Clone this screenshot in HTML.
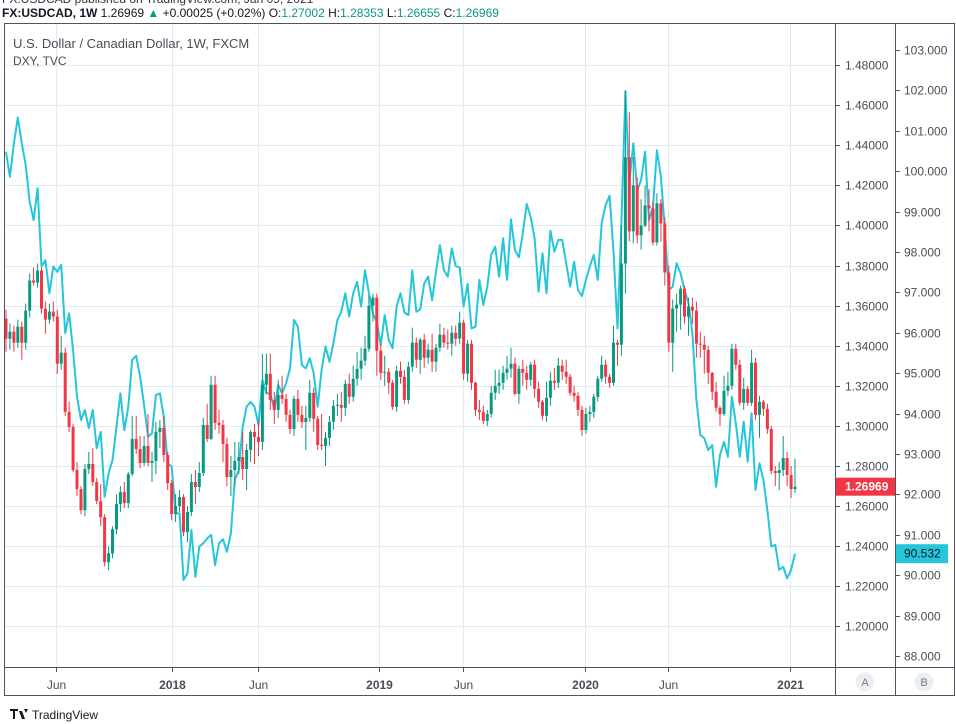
<!DOCTYPE html>
<html><head><meta charset="utf-8"><style>
body{margin:0;background:#fff;font-family:"Liberation Sans",sans-serif;}
svg{display:block}
</style></head><body>
<svg id="c" width="956" height="724" xmlns="http://www.w3.org/2000/svg" font-family="Liberation Sans, sans-serif">
<text x="2" y="3" font-size="12" fill="#333">FX:USDCAD published on TradingView.com, Jan 09, 2021</text>
<g font-size="12">
<text x="2" y="17" fill="#131722"><tspan font-weight="bold">FX:USDCAD, 1W</tspan> 1.26969 <tspan fill="#089981">▲</tspan> +0.00025 (+0.02%) O:<tspan fill="#089981">1.27002</tspan> H:<tspan fill="#089981">1.28353</tspan> L:<tspan fill="#089981">1.26655</tspan> C:<tspan fill="#089981">1.26969</tspan></text>
</g>
<g id="grid"></g>
<g id="dxy"></g>
<g id="candles"></g>
<g>
<text x="13" y="48" font-size="13" fill="#4a4d57">U.S. Dollar / Canadian Dollar, 1W, FXCM</text>
<text x="13" y="65" font-size="12" fill="#4a4d57">DXY, TVC</text>
</g>
<g id="axes"></g>
<g fill="none" stroke="#50535e" stroke-width="1">
<rect x="4.5" y="23.5" width="950" height="672"/>
<line x1="835.5" y1="23" x2="835.5" y2="696"/>
<line x1="895.5" y1="23" x2="895.5" y2="696"/>
<line x1="4" y1="667.5" x2="955" y2="667.5"/>
</g>
<g><circle cx="865" cy="682" r="9.5" fill="#eceff2"/><text x="865" y="686" font-size="11" fill="#787b86" text-anchor="middle">A</text></g>
<g><circle cx="924" cy="682" r="9.5" fill="#eceff2"/><text x="924" y="686" font-size="11" fill="#787b86" text-anchor="middle">B</text></g>
<g>
<path d="M10 709h8v2h-3v8h-2v-8h-3z M19 711h3l3 8h-3z M24 709h4l-2 4z" fill="#131722"/>
<text x="32" y="719" font-size="12" fill="#131722">TradingView</text>
</g>
</svg>
<script>
const closes=[1.3435,1.3470,1.3415,1.3495,1.3415,1.3575,1.3725,1.3715,1.3775,1.3585,1.3530,1.3570,1.3545,1.3310,1.3365,1.3070,1.2995,1.2780,1.2685,1.2580,
1.2785,1.2810,1.2720,1.2625,1.2545,1.2320,1.2365,1.2485,1.2610,1.2670,1.2615,1.2760,1.2935,1.2885,1.2815,1.2900,1.2815,1.2825,1.2970,1.2990,
1.2855,1.2715,1.2560,1.2600,1.2645,1.2470,1.2570,1.2720,1.2695,1.2765,1.3005,1.2935,1.3205,1.3015,1.3005,1.2910,1.2745,1.2780,1.2825,1.2845,
1.2785,1.2880,1.2970,1.2945,1.2920,1.3205,1.3260,1.3130,1.3080,1.3155,1.3135,1.3055,1.2985,1.3135,1.3055,1.3020,1.3040,1.3165,1.3035,1.2905,
1.2900,1.2940,1.3020,1.3100,1.3105,1.3090,1.3210,1.3145,1.3235,1.3285,1.3325,1.3385,1.3600,1.3640,1.3375,1.3265,1.3270,1.3215,1.3095,1.3275,
1.3245,1.3130,1.3295,1.3415,1.3330,1.3430,1.3340,1.3380,1.3320,1.3390,1.3455,1.3415,1.3410,1.3465,1.3435,1.3515,1.3260,1.3410,1.3215,1.3080,
1.3070,1.3025,1.3060,1.3165,1.3200,1.3215,1.3265,1.3285,1.3310,1.3160,1.3285,1.3265,1.3230,1.3305,1.3185,1.3120,1.3050,1.3140,1.3225,1.3215,
1.3300,1.3270,1.3245,1.3165,1.3150,1.3080,1.2980,1.3060,1.3070,1.3145,1.3235,1.3305,1.3245,1.3215,1.3415,1.3405,1.3810,1.4340,1.3970,1.4200,
1.3950,1.4000,1.4100,1.4085,1.3915,1.4110,1.4010,1.3765,1.3415,1.3585,1.3605,1.3685,1.3545,1.3595,1.3575,1.3410,1.3405,1.3380,1.3265,1.3170,
1.3090,1.3060,1.3175,1.3200,1.3385,1.3305,1.3115,1.3185,1.3115,1.3315,1.3055,1.3120,1.3085,1.2985,1.2775,1.2765,1.2780,1.2840,1.2755,1.2685,1.26969];
const firstOpen=1.3535;
const highs=[1.358,1.351,1.350,1.353,1.352,1.361,1.376,1.379,1.381,1.379,1.362,1.361,1.362,1.358,1.345,1.339,1.312,1.301,1.282,1.270,
1.281,1.287,1.289,1.274,1.271,1.256,1.240,1.250,1.266,1.270,1.272,1.277,1.305,1.305,1.295,1.295,1.306,1.287,1.302,1.303,
1.305,1.287,1.273,1.266,1.268,1.266,1.260,1.276,1.278,1.282,1.304,1.311,1.325,1.325,1.308,1.303,1.294,1.285,1.292,1.292,
1.297,1.291,1.298,1.301,1.303,1.336,1.336,1.336,1.317,1.323,1.325,1.316,1.308,1.315,1.318,1.310,1.310,1.323,1.319,1.305,
1.306,1.297,1.305,1.313,1.316,1.317,1.323,1.326,1.330,1.337,1.339,1.345,1.365,1.366,1.366,1.341,1.335,1.329,1.323,1.330,
1.332,1.328,1.332,1.349,1.344,1.344,1.346,1.341,1.346,1.341,1.351,1.349,1.348,1.350,1.350,1.357,1.353,1.343,1.343,1.322,
1.313,1.310,1.308,1.320,1.328,1.328,1.330,1.335,1.339,1.334,1.330,1.333,1.330,1.332,1.333,1.322,1.313,1.322,1.327,1.329,
1.334,1.333,1.333,1.326,1.320,1.317,1.310,1.309,1.310,1.316,1.325,1.335,1.333,1.326,1.350,1.343,1.400,1.4675,1.4565,1.434,
1.424,1.413,1.420,1.418,1.412,1.416,1.413,1.404,1.380,1.363,1.366,1.370,1.370,1.364,1.364,1.362,1.347,1.345,1.340,1.327,
1.322,1.310,1.325,1.327,1.341,1.341,1.333,1.324,1.320,1.338,1.334,1.315,1.313,1.311,1.300,1.280,1.282,1.295,1.287,1.280,1.28353];
const lows=[1.337,1.338,1.337,1.339,1.333,1.338,1.354,1.370,1.369,1.356,1.346,1.351,1.352,1.326,1.328,1.305,1.297,1.277,1.265,1.256,
1.255,1.276,1.270,1.261,1.250,1.230,1.228,1.234,1.246,1.257,1.259,1.259,1.275,1.286,1.279,1.280,1.280,1.272,1.276,1.289,
1.282,1.268,1.253,1.252,1.257,1.245,1.242,1.255,1.261,1.267,1.275,1.292,1.293,1.298,1.296,1.282,1.270,1.265,1.270,1.276,
1.273,1.268,1.282,1.281,1.285,1.288,1.316,1.308,1.301,1.304,1.311,1.302,1.296,1.295,1.302,1.299,1.288,1.302,1.297,1.288,
1.288,1.280,1.290,1.298,1.305,1.302,1.305,1.311,1.312,1.320,1.323,1.330,1.337,1.352,1.325,1.323,1.320,1.316,1.308,1.307,
1.321,1.311,1.311,1.327,1.329,1.326,1.329,1.331,1.327,1.327,1.337,1.339,1.338,1.335,1.340,1.341,1.323,1.322,1.318,1.305,
1.303,1.301,1.300,1.304,1.313,1.316,1.318,1.323,1.324,1.315,1.311,1.320,1.318,1.320,1.314,1.309,1.303,1.302,1.310,1.318,
1.319,1.323,1.321,1.315,1.312,1.305,1.295,1.296,1.302,1.304,1.312,1.322,1.321,1.319,1.320,1.330,1.335,1.366,1.392,1.391,
1.391,1.388,1.399,1.397,1.390,1.390,1.392,1.370,1.337,1.327,1.347,1.348,1.351,1.345,1.351,1.334,1.334,1.326,1.321,1.313,
1.307,1.300,1.305,1.315,1.318,1.328,1.310,1.308,1.310,1.310,1.303,1.294,1.305,1.296,1.276,1.270,1.268,1.275,1.270,1.264,1.26655];
const dxy=[100.48,99.86,100.69,101.33,100.69,100.15,99.24,98.79,99.58,97.64,97.80,96.98,97.64,97.51,97.68,95.99,96.48,95.57,94.42,93.84,
94.09,93.64,94.09,93.14,93.55,91.94,92.52,92.85,93.68,94.50,93.59,94.17,95.33,95.43,94.91,94.21,93.43,93.51,94.46,94.50,
93.92,92.77,92.69,91.53,91.53,89.88,90.05,91.12,89.96,90.71,90.79,90.91,91.00,90.25,90.79,90.89,90.58,91.04,92.36,92.60,
93.68,94.17,94.29,94.17,93.72,94.83,94.50,94.50,94.09,94.71,94.50,94.75,95.12,96.32,96.15,95.20,95.12,95.37,95.00,94.17,
95.08,95.66,95.28,95.74,96.32,96.52,96.98,96.40,96.98,97.26,96.65,97.55,96.98,96.48,96.27,95.70,96.44,95.82,95.62,96.65,
96.98,96.50,96.44,97.55,96.52,96.58,97.22,97.39,96.81,97.51,98.17,97.55,97.39,98.09,97.65,97.62,96.65,97.21,96.11,96.15,
97.31,96.69,97.14,97.93,98.13,97.39,98.34,97.31,98.81,98.05,97.87,98.46,99.19,98.87,98.34,97.02,97.97,96.98,98.53,98.01,
98.30,98.30,97.72,97.14,97.76,97.06,96.91,97.31,97.65,97.93,97.31,98.72,99.16,99.39,98.01,96.11,98.71,101.97,99.70,100.69,
99.53,99.78,100.48,98.79,99.12,100.52,99.86,98.59,97.06,97.14,97.72,97.47,97.06,96.73,95.99,94.34,93.47,93.39,93.10,93.22,
92.19,92.98,93.30,92.93,94.42,93.76,92.93,93.80,92.81,94.01,92.11,92.77,92.36,91.61,90.71,90.75,90.13,90.21,89.92,90.13,90.532];
const leftTicks=["1.20000","1.22000","1.24000","1.26000","1.28000","1.30000","1.32000","1.34000","1.36000","1.38000","1.40000","1.42000","1.44000","1.46000","1.48000"];
const rightTicks=["88.000","89.000","90.000","91.000","92.000","93.000","94.000","95.000","96.000","97.000","98.000","99.000","100.000","101.000","102.000","103.000"];
const timeLabels=["Jun","2018","Jun","2019","Jun","2020","Jun","2021"];
const timeIdx=[12.7,42.1,63.9,94.6,115.8,146.8,167.8,198.7];

const NS="http://www.w3.org/2000/svg";
function xOf(i){return 6+i*3.945;}
function yA(v){return 466+(1.28-v)*2005;}
function yB(v){return 454+(93-v)*40.4;}
function mk(tag,attrs,parent){const e=document.createElementNS(NS,tag);for(const k in attrs)e.setAttribute(k,attrs[k]);parent.appendChild(e);return e;}
const grid=document.getElementById('grid'),axes=document.getElementById('axes');
leftTicks.forEach(t=>{const y=Math.round(yA(parseFloat(t)))+0.5;
 const g=mk('line',{x1:5,x2:835,y1:y,y2:y,stroke:'#e1ecf2'},grid);
 
 
 const tk=mk('line',{x1:835,x2:840,y1:y,y2:y,stroke:'#50535e'},axes);
 
 
 const tx=mk('text',{x:845,y:y+4,'font-size':12,fill:'#4a4d57'},axes);tx.textContent=t;
 
 
});
rightTicks.forEach(t=>{const y=Math.round(yB(parseFloat(t)))+0.5;
 const tk=mk('line',{x1:895,x2:900,y1:y,y2:y,stroke:'#50535e'},axes);
 
 
 const tx=mk('text',{x:904,y:y+4,'font-size':12,fill:'#4a4d57'},axes);tx.textContent=t;
 
 
});
timeLabels.forEach((t,k)=>{const x=Math.round(xOf(timeIdx[k]))+0.5;
 const g=mk('line',{x1:x,x2:x,y1:24,y2:667,stroke:'#e1ecf2'},grid);
 
 
 const tk=mk('line',{x1:x,x2:x,y1:667,y2:672,stroke:'#50535e'},axes);
 
 
 const tx=mk('text',{x:x,y:689,'font-size':12,fill:'#4a4d57','text-anchor':'middle','font-weight':(t==='Jun'?'normal':'bold')},axes);tx.textContent=t;
 
 
});
const dxyG=document.getElementById('dxy');
const pl=mk('polyline',{points:dxy.map((v,i)=>xOf(i).toFixed(1)+','+yB(v).toFixed(1)).join(' '),fill:'none',stroke:'#26c6da','stroke-width':2,'stroke-linejoin':'round'},dxyG);


const cg=document.getElementById('candles');
closes.forEach((c,i)=>{const o=i===0?firstOpen:closes[i-1];const up=c>=o;const col=up?'#089981':'#f23645';
 const x=xOf(i);
 const w=mk('line',{x1:x.toFixed(1),x2:x.toFixed(1),y1:yA(highs[i]).toFixed(1),y2:yA(lows[i]).toFixed(1),stroke:col,'stroke-width':1},cg);
 
 
 const yt=yA(Math.max(o,c)),yb=yA(Math.min(o,c));
 const b=mk('rect',{x:(x-1.5).toFixed(1),y:yt.toFixed(1),width:3,height:Math.max(1,yb-yt).toFixed(1),fill:col},cg);
 
 
});
const lastC=closes[closes.length-1],lastD=dxy[dxy.length-1];
const ly=yA(lastC);
const r1=mk('rect',{x:835,y:(ly-9).toFixed(1),width:60,height:18,fill:'#f23645'},axes);


const t1=mk('text',{x:845,y:(ly+4).toFixed(1),'font-size':12,fill:'#fff','font-weight':'bold'},axes);t1.textContent=lastC.toFixed(5);


const dy=yB(lastD);
const r2=mk('rect',{x:895,y:(dy-9.5).toFixed(1),width:53,height:19,fill:'#26c6da'},axes);


const t2=mk('text',{x:904,y:(dy+4).toFixed(1),'font-size':12,fill:'#131722'},axes);t2.textContent=lastD.toFixed(3);


</script>
</body></html>
